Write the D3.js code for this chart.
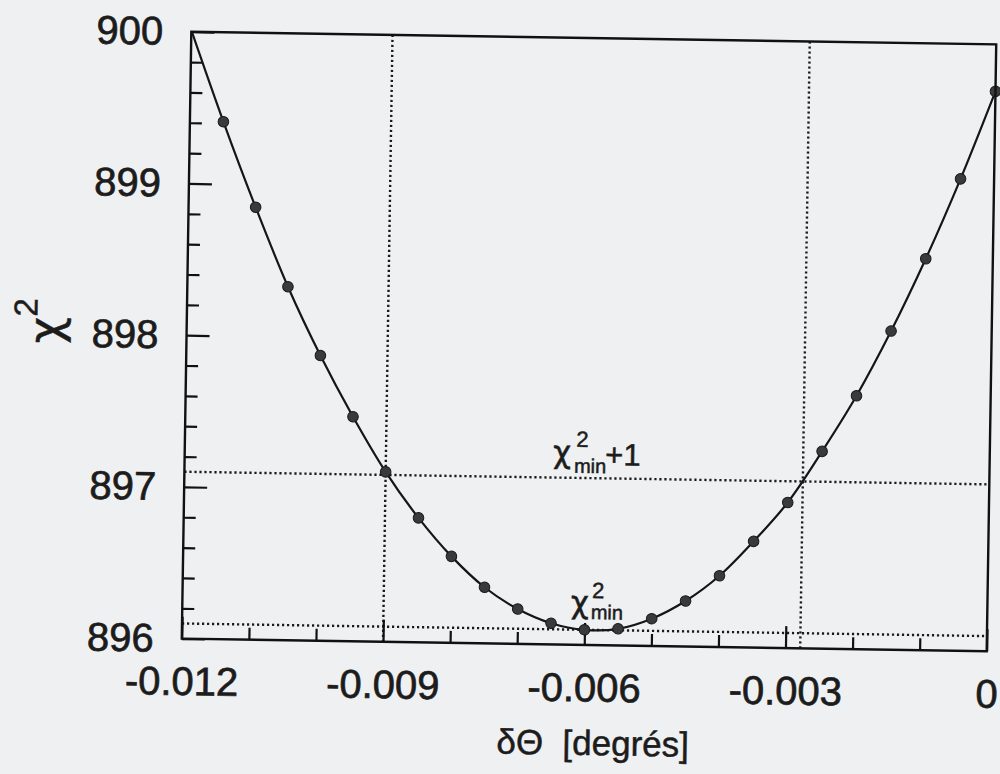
<!DOCTYPE html>
<html>
<head>
<meta charset="utf-8">
<script src="https://cdn.jsdelivr.net/npm/d3@7"></script>
<style>
  html, body { margin: 0; padding: 0; background: #eff0f2; }
  svg { display: block; }
  text { font-family: "Liberation Sans", Arial, Helvetica, sans-serif; fill: #1c1c1c; }
  .greek { font-family: "DejaVu Sans", "Liberation Sans", sans-serif; }
</style>
</head>
<body>
<svg id="chart" width="1000" height="774"></svg>
<script>
// ---- data ----
const deltaTheta = [-0.012, -0.0115, -0.011, -0.0105, -0.010, -0.0095, -0.009, -0.0085, -0.008, -0.0075,
                    -0.007, -0.0065, -0.006, -0.0055, -0.005, -0.0045, -0.004, -0.0035, -0.003, -0.0025,
                    -0.002, -0.0015, -0.001, -0.0005, 0];
const chi2 = [900.01, 899.41, 898.85, 898.33, 897.88, 897.48, 897.12, 896.82, 896.57, 896.37,
              896.23, 896.14, 896.10, 896.11, 896.18, 896.30, 896.47, 896.70, 896.96, 897.30,
              897.67, 898.10, 898.58, 899.11, 899.69];
const xMajorTicks = [-0.012, -0.009, -0.006, -0.003, 0];
const xTickLabels = ["-0.012", "-0.009", "-0.006", "-0.003", "0"];
const xMinorTicks = [-0.011, -0.010, -0.008, -0.007, -0.005, -0.004, -0.002, -0.001];
const yMajorTicks = [896, 897, 898, 899, 900];
const yTickLabels = ["896", "897", "898", "899", "900"];
const yMinorTicks = [896.2, 896.4, 896.6, 896.8, 897.2, 897.4, 897.6, 897.8,
                     898.2, 898.4, 898.6, 898.8, 899.2, 899.4, 899.6, 899.8];
const chi2Min = 896.10;
const chi2MinPlus1 = 897.10;
const crossings = [-0.009, -0.00278];

// ---- layout ----
const L = 186.5, R = 991.5, T = 38, B = 645;
const ink = "#1c1c1c";
const svg = d3.select("#chart");
svg.append("rect").attr("width", 1000).attr("height", 774).attr("fill", "#eff0f2");
const g = svg.append("g").attr("transform", "rotate(0.9 589 341.5)");

const x = d3.scaleLinear().domain([-0.012, 0]).range([L, R]);
const y = d3.scaleLinear().domain([896, 900]).range([B, T]);

g.append("clipPath").attr("id", "clip")
  .append("rect").attr("x", L).attr("y", T).attr("width", R - L).attr("height", B - T);

// reference dotted lines
const dotted = g.append("g").attr("stroke", "#1a1a1a").attr("stroke-width", 2.4)
  .attr("stroke-dasharray", "2.2,2.8").attr("fill", "none");
[chi2Min, chi2MinPlus1].forEach(v => {
  dotted.append("line").attr("x1", L).attr("x2", R).attr("y1", y(v)).attr("y2", y(v));
});
crossings.forEach(v => {
  dotted.append("line").attr("x1", x(v)).attr("x2", x(v)).attr("y1", T).attr("y2", B);
});

// axes
function styleAxis(sel) {
  sel.select(".domain").remove();
  sel.selectAll(".tick line").attr("stroke", "#111").attr("stroke-width", 2.2);
  sel.selectAll(".tick text").attr("fill", ink).attr("font-size", 40)
     .attr("stroke", ink).attr("stroke-width", 0.7)
     .attr("font-family", "'Liberation Sans', Arial, sans-serif");
}
g.append("g").attr("transform", `translate(0,${B})`)
  .call(d3.axisBottom(x).tickValues(xMajorTicks).tickSizeInner(-22).tickSizeOuter(0).tickPadding(28)
        .tickFormat((d, i) => xTickLabels[i]))
  .call(styleAxis);
g.append("g").attr("transform", `translate(0,${B})`)
  .call(d3.axisBottom(x).tickValues(xMinorTicks).tickSizeInner(-12).tickSizeOuter(0).tickFormat(""))
  .call(styleAxis);
g.append("g").attr("transform", `translate(${L},0)`)
  .call(d3.axisLeft(y).tickValues(yMajorTicks).tickSizeInner(-23).tickSizeOuter(0).tickPadding(28)
        .tickFormat((d, i) => yTickLabels[i]))
  .call(styleAxis);
g.append("g").attr("transform", `translate(${L},0)`)
  .call(d3.axisLeft(y).tickValues(yMinorTicks).tickSizeInner(-12).tickSizeOuter(0).tickFormat(""))
  .call(styleAxis);

// curve
const pts = deltaTheta.map((d, i) => ({ x: d, y: chi2[i] }));
g.append("path").datum(pts)
  .attr("clip-path", "url(#clip)")
  .attr("fill", "none").attr("stroke", "#161616").attr("stroke-width", 2.2)
  .attr("d", d3.line().x(d => x(d.x)).y(d => y(d.y)).curve(d3.curveCatmullRom.alpha(0.5)));

// points
g.append("g").selectAll("circle").data(pts.filter(d => d.y <= 900)).join("circle")
  .attr("cx", d => x(d.x)).attr("cy", d => y(d.y)).attr("r", 5.3)
  .attr("fill", "#3a3a3a").attr("stroke", "#1a1a1a").attr("stroke-width", 1);

// frame
g.append("rect").attr("x", L).attr("y", T).attr("width", R - L).attr("height", B - T)
  .attr("fill", "none").attr("stroke", "#111").attr("stroke-width", 2.4);

// annotations
const a1 = g.append("text").attr("font-size", 31).attr("stroke", ink).attr("stroke-width", 0.5);
a1.append("tspan").attr("class", "greek").attr("x", 555).attr("y", 463).text("χ");
a1.append("tspan").attr("x", 578).attr("y", 447).attr("font-size", 22).text("2");
a1.append("tspan").attr("x", 576).attr("y", 473).attr("font-size", 20).text("min");
a1.append("tspan").attr("x", 607).attr("y", 465).text("+1");

const a2 = g.append("text").attr("font-size", 31).attr("stroke", ink).attr("stroke-width", 0.5);
a2.append("tspan").attr("class", "greek").attr("x", 575).attr("y", 613).text("χ");
a2.append("tspan").attr("x", 596).attr("y", 598).attr("font-size", 22).text("2");
a2.append("tspan").attr("x", 595).attr("y", 619).attr("font-size", 20).text("min");

// axis titles
g.append("text").attr("x", 599).attr("y", 755).attr("text-anchor", "middle")
  .attr("font-size", 35).attr("stroke", ink).attr("stroke-width", 0.5)
  .style("white-space", "pre")
  .text("δΘ  [degrés]");

const yt = g.append("text").attr("transform", "translate(61,352) rotate(-90)").attr("font-size", 46)
  .attr("stroke", ink).attr("stroke-width", 0.5);
yt.append("tspan").attr("class", "greek").attr("x", 0).attr("y", 0).text("χ");
yt.append("tspan").attr("dy", -24).attr("font-size", 33).text("2");
</script>
</body>
</html>
